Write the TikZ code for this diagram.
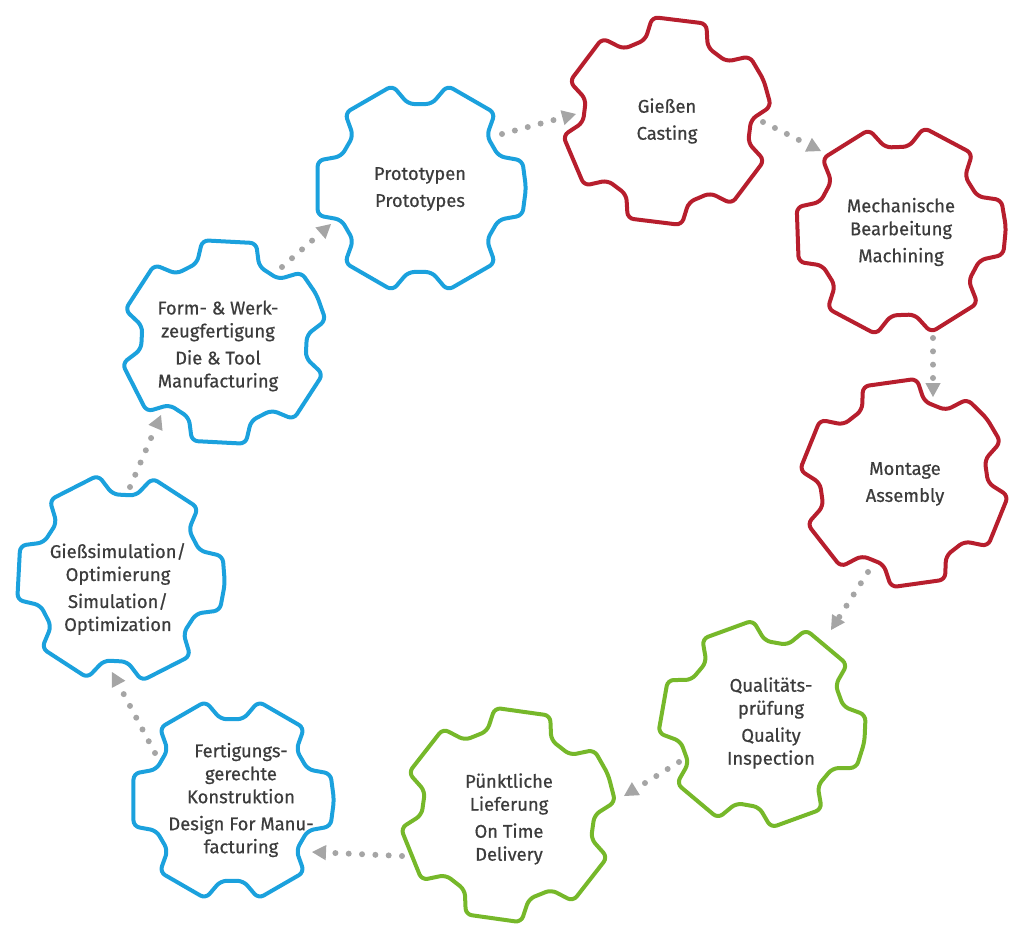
\documentclass[tikz,border=0pt]{standalone}
\usepackage{fontspec}
\setmainfont{Fira Sans}[FakeBold=0.6]
\usetikzlibrary{arrows.meta,calc}
\definecolor{gblue}{HTML}{1BA1DD}
\definecolor{gred}{HTML}{B71E2D}
\definecolor{ggreen}{HTML}{76B82A}
\definecolor{dotgray}{HTML}{A5A5A5}
\definecolor{txtgray}{HTML}{3C3C3C}
\tikzset{
  gearline/.style={line width=3pt, rounded corners=4.5pt, line join=round},
  txt/.style={align=center, text=txtgray, inner sep=0pt,
    font=\fontsize{13.8pt}{17.25pt}\selectfont},
  flow/.style={draw=dotgray, line width=4.5pt, line cap=round,
    dash pattern=on 0pt off 10pt,
    -{Triangle[length=10.5pt,width=11.5pt,fill=dotgray,line width=0pt]}},
}
\newcommand\gearpath[4]{%
  \draw[gearline,#1] ($(#2)+({-(#4)}:#3)$)
    \foreach \k in {0,...,5}{
      -- ($(#2)+({-(#4+\k*60+15)}:#3)$)
      -- ($(#2)+({-(#4+\k*60+22)}:{0.8*#3})$)
      -- ($(#2)+({-(#4+\k*60+38)}:{0.8*#3})$)
      -- ($(#2)+({-(#4+\k*60+45)}:#3)$)
    } -- cycle;
}
\begin{document}
\begin{tikzpicture}[x=0.75pt,y=-0.75pt]
\useasboundingbox (0,0) rectangle (1024,943);
% gear centres
\coordinate (g1) at (420,188);
\coordinate (g2) at (667,121);
\coordinate (g3) at (900,231);
\coordinate (g4) at (904,483);
\coordinate (g5) at (762,724);
\coordinate (g6) at (508,815);
\coordinate (g7) at (232,800);
\coordinate (g8) at (120,578);
\coordinate (g9) at (224,342);
% gears
\gearpath{gblue}{g1}{106}{0}
\gearpath{gred}{g2}{105}{23}
\gearpath{gred}{g3}{106}{2}
\gearpath{gred}{g4}{105}{38}
\gearpath{ggreen}{g5}{104}{-10}
\gearpath{ggreen}{g6}{108}{22}
\gearpath{gblue}{g7}{102}{0}
\gearpath{gblue}{g8}{105}{-3}
\gearpath{gblue}{g9}{104}{27}
% labels
\node[txt] (t1) at (420,189) {Prototypen\\[3pt]Prototypes};
\node[txt] (t2) at (667,121) {Gießen\\[3pt]Casting};
\node[txt] (t3) at (901,232) {Mechanische\\Bearbeitung\\[3pt]Machining};
\node[txt] (t4) at (905,484) {Montage\\[3pt]Assembly};
\node[txt] (t5) at (771,723) {Qualitäts-\\prüfung\\[3pt]Quality\\Inspection};
\node[txt] (t6) at (509,819) {Pünktliche\\Lieferung\\[3pt]On Time\\Delivery};
\node[txt] (t7) at (241,800) {Fertigungs-\\gerechte\\Konstruktion\\[3pt]Design For Manu-\\facturing};
\node[txt] (t8) at (118,589) {Gießsimulation/\\Optimierung\\[3pt]Simulation/\\Optimization};
\node[txt] (t9) at (218,346) {Form- \& Werk-\\zeugfertigung\\[3pt]Die \& Tool\\Manufacturing};
% connector end points
\coordinate (a1s) at (502,134); \coordinate (a1e) at (576,114);
\coordinate (a2s) at (763,122); \coordinate (a2e) at (821,151);
\coordinate (a3s) at (933,338); \coordinate (a3e) at (933,397);
\coordinate (a4s) at (868,572); \coordinate (a4e) at (831,630);
\coordinate (a5s) at (679,762); \coordinate (a5e) at (624,796);
\coordinate (a6s) at (402,856); \coordinate (a6e) at (312,852);
\coordinate (a7s) at (155,753); \coordinate (a7e) at (112,672);
\coordinate (a8s) at (130,487); \coordinate (a8e) at (161,415);
\coordinate (a9s) at (282,267); \coordinate (a9e) at (331,224);
\foreach \i in {1,...,9}{\draw[flow] (a\i s) -- (a\i e);}
\end{tikzpicture}
\end{document}
